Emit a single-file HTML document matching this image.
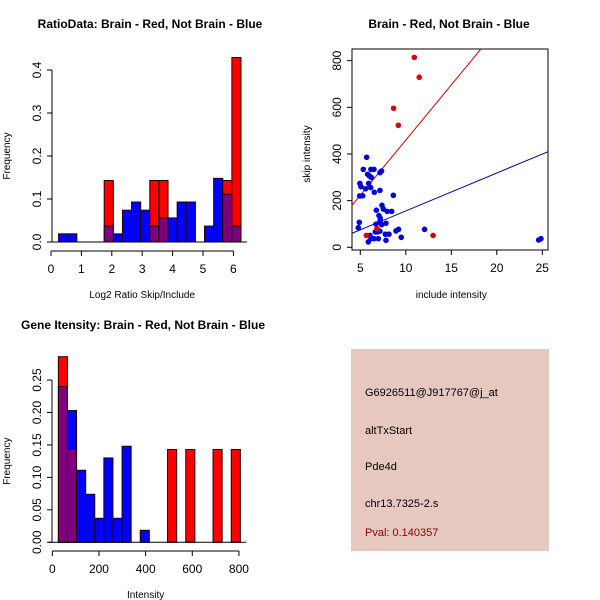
<!DOCTYPE html>
<html><head><meta charset="utf-8"><style>
body{margin:0;background:#fff}
svg{display:block;font-family:"Liberation Sans",sans-serif}
</style></head><body>
<svg id="c" width="600" height="600" viewBox="0 0 600 600">
<rect width="600" height="600" fill="#fff"/>
<text x="150" y="28" font-size="12" font-weight="bold" text-anchor="middle">RatioData: Brain - Red, Not Brain - Blue</text>
<text x="449" y="28" font-size="12" font-weight="bold" text-anchor="middle">Brain - Red, Not Brain - Blue</text>
<text x="143" y="329" font-size="12" font-weight="bold" text-anchor="middle">Gene Itensity: Brain - Red, Not Brain - Blue</text>
<rect x="351" y="349" width="198" height="202" fill="#e6c8c1"/>
<g font-size="11">
<text x="365" y="396">G6926511@J917767@j_at</text>
<text x="365" y="434">altTxStart</text>
<text x="365" y="470">Pde4d</text>
<text x="365" y="507">chr13.7325-2.s</text>
<text x="365" y="536" fill="#8b0000">Pval: 0.140357</text>
</g>
</svg>
<script>
// Panel 1: log2 ratio histogram (bins start 0.25, width 0.3)
const ratioBlue=[0.019,0.019,0,0,0,0.037,0.019,0.074,0.093,0.074,0.037,0.056,0.056,0.093,0.093,0,0.037,0.148,0.111,0.037];
const ratioRed=[0,0,0,0,0,0.143,0,0,0,0,0.143,0.143,0,0,0,0,0,0,0.143,0.429];
const ratioXTicks=[0,1,2,3,4,5,6];
const ratioYTicks=[0,0.1,0.2,0.3,0.4];
// Panel 2: scatter
const redX=[10.93,11.48,8.66,9.18,5.66,13.0,6.83];
const redY=[814,729,596,523,51,51,80];
const blueX=[5.70,5.33,6.17,6.50,5.81,6.0,6.22,7.34,7.16,4.96,5.07,5.92,5.59,6.14,4.93,5.26,6.54,7.16,8.63,7.38,7.53,6.76,7.95,8.44,7.05,7.2,7.16,6.72,7.34,7.82,4.89,4.78,6.87,7.16,6.65,7.75,8.15,8.92,9.2,12.06,9.5,6.06,6.17,6.5,6.98,5.88,7.82,24.6,24.85];
const blueY=[386,334,334,334,313,306,299,327,320,274,260,274,251,256,220,221,236,244,223,180,164,159,154,154,136,124,110,99,97,103,107,84,66,69,66,56,56,70,77,77,43,51,37,37,37,23,30,31,37];
const redFit=[-13.5,47.3];
const blueFit=[-6.5,16.25];
const scXTicks=[5,10,15,20,25];
const scYTicks=[0,200,400,600,800];
// Panel 3: intensity histogram (bins start 26, width 39)
const intBlue=[0.24,0.203,0.111,0.074,0.037,0.13,0.037,0.148,0,0.0185,0,0,0,0,0,0,0,0,0,0];
const intRed=[0.286,0.143,0,0,0,0,0,0,0,0,0,0,0.143,0,0.143,0,0,0.143,0,0.143];
const intXTicks=[0,200,400,600,800];
const intYTicks=[0,0.05,0.10,0.15,0.20,0.25];

const svg=document.getElementById('c');
const NS='http://www.w3.org/2000/svg';
function mk(tag,at,txt){const e=document.createElementNS(NS,tag);for(const k in at)e.setAttribute(k,at[k]);if(txt!==undefined)e.textContent=txt;svg.appendChild(e);return e;}

function axes(xs,ys,xt,yt,xfmt,yfmt,xlab,ylab,xAxisY,yAxisX,xlabY,pre){
  const xt0=xs(xt[0]),xt1=xs(xt[xt.length-1]);
  let l=mk('line',{x1:xt0,x2:xt1,y1:xAxisY,y2:xAxisY,stroke:'#000'});
  
  xt.forEach(v=>{mk('line',{x1:xs(v),x2:xs(v),y1:xAxisY,y2:xAxisY+5,stroke:'#000'});
    const t=mk('text',{x:xs(v),y:xAxisY+22,'font-size':12,'text-anchor':'middle'},xfmt(v));
    });
  const y0=ys(yt[0]),y1=ys(yt[yt.length-1]);
  l=mk('line',{x1:yAxisX,x2:yAxisX,y1:y0,y2:y1,stroke:'#000'});
  
  yt.forEach(v=>{mk('line',{x1:yAxisX-5,x2:yAxisX,y1:ys(v),y2:ys(v),stroke:'#000'});
    const tx=yAxisX-11;
    const t=mk('text',{x:tx,y:ys(v),'font-size':12,'text-anchor':'middle',transform:`rotate(-90 ${tx} ${ys(v)})`},yfmt(v));
    });
  let t=mk('text',{x:(xt0+xt1)/2,y:xlabY,'font-size':10,'text-anchor':'middle'},xlab);
  
  const yl=yAxisX-42,ym=(y0+y1)/2;
  t=mk('text',{x:yl,y:ym,'font-size':10,'text-anchor':'middle',transform:`rotate(-90 ${yl} ${ym})`},ylab);
  
}

function hist(blue,red,start,w,xs,ys,pre){
  blue.forEach((b,i)=>{
    const r=red[i],x0=xs(start+i*w),x1=xs(start+(i+1)*w);
    const lo=Math.min(b,r),hi=Math.max(b,r);
    if(hi>0){
      const c=r>b?'#ff0000':'#0000ff';
      const e=mk('rect',{x:x0,y:ys(hi),width:x1-x0,height:ys(0)-ys(hi),fill:c,stroke:'#200'});
      
    }
    if(lo>0){
      const e=mk('rect',{x:x0,y:ys(lo),width:x1-x0,height:ys(0)-ys(lo),fill:'#7f007f',stroke:'#200'});
      
    }
  });
  const bl=mk('line',{x1:xs(start)-10,x2:xs(start+blue.length*w)+6,y1:ys(0),y2:ys(0),stroke:'#000'});
  
}

// Panel 1
{const xs=v=>51+v*30.4, ys=v=>242-v*430;
 hist(ratioBlue,ratioRed,0.25,0.3,xs,ys,'ratio');
 axes(xs,ys,ratioXTicks,ratioYTicks,v=>String(v),v=>v.toFixed(1),'Log2 Ratio Skip/Include','Frequency',251,52,298,'ratio');}
// Panel 3
{const xs=v=>52.3+v*0.2333, ys=v=>542.3-v*649;
 hist(intBlue,intRed,26,39,xs,ys,'intensity');
 axes(xs,ys,intXTicks,intYTicks,v=>String(v),v=>v.toFixed(2),'Intensity','Frequency',551,52,598,'intensity');}
// Panel 2
{const xs=v=>360.3+(v-5)*9.1, ys=v=>247.3-v*0.2333;
 const fr=mk('rect',{x:352,y:49,width:196,height:201,fill:'none',stroke:'#000'});
 
 axes(xs,ys,scXTicks,scYTicks,v=>String(v),v=>String(v),'include intensity','skip intensity',250,352,298,'scatter');
 const cp=mk('clipPath',{id:'cp'});const cr=document.createElementNS(NS,'rect');
 cr.setAttribute('x',352);cr.setAttribute('y',49);cr.setAttribute('width',196);cr.setAttribute('height',201);cp.appendChild(cr);
 const xa=4.09,xb=25.63;
 let l=mk('line',{x1:xs(xa),x2:xs(xb),y1:ys(redFit[0]+redFit[1]*xa),y2:ys(redFit[0]+redFit[1]*xb),stroke:'#cc0000','clip-path':'url(#cp)'});
 
 l=mk('line',{x1:xs(xa),x2:xs(xb),y1:ys(blueFit[0]+blueFit[1]*xa),y2:ys(blueFit[0]+blueFit[1]*xb),stroke:'#0000aa','clip-path':'url(#cp)'});
 
 blueX.forEach((x,i)=>{const c=mk('circle',{cx:xs(x),cy:ys(blueY[i]),r:2.8,fill:'#0000dd'});
   });
 redX.forEach((x,i)=>{const c=mk('circle',{cx:xs(x),cy:ys(redY[i]),r:2.8,fill:'#dd0000'});
   });
}
</script>
</body></html>
